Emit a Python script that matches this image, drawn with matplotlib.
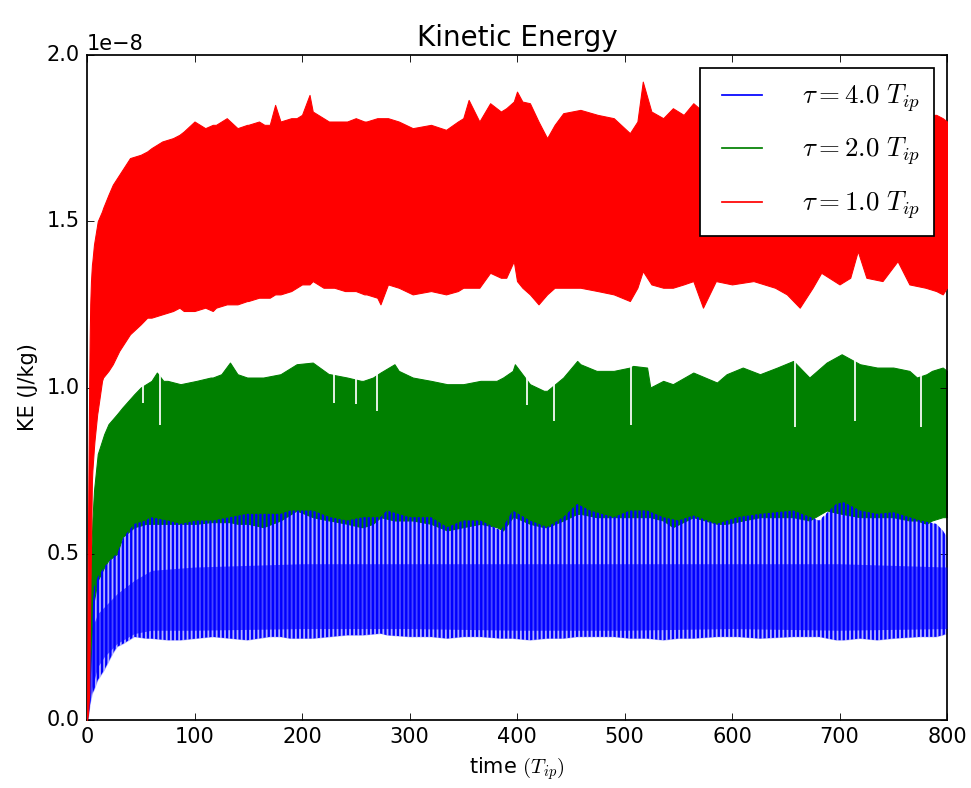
import numpy as np
import matplotlib
matplotlib.use("Agg")
import matplotlib.pyplot as plt

plt.style.use("classic")
plt.rcParams["mathtext.fontset"] = "cm"
plt.rcParams["hatch.linewidth"] = 1.35

SCALE = 1e-8

# ---- tau = 1.0 T_ip (red): envelope of the oscillating KE trace ----
red_t = [0, 1, 2, 2.5, 3, 3.7, 4.6, 5, 6.5, 7, 9.5, 10, 14, 15, 20, 24, 30, 40, 50, 56,
         60, 70, 80, 86, 90, 100, 110, 117, 120, 130, 140, 149, 150, 160, 165, 170, 175,
         180, 190, 195, 200, 207, 210, 215, 220, 225, 230, 240, 242, 250, 258, 260, 270,
         273, 280, 290, 303, 320, 334, 345, 350, 355, 365, 375, 385, 390, 397, 400, 405,
         412, 420, 428, 435, 443, 459, 475, 490, 505, 512, 517, 525, 536, 545, 555, 564,
         573, 585, 600, 620, 640, 651, 663, 675, 683, 700, 710, 717, 725, 740, 754, 765,
         780, 790, 796, 800]
red_hi = [0.0, 0.6, 1.0, 1.15, 1.25, 1.32, 1.37, 1.38, 1.43, 1.44, 1.49, 1.50, 1.53, 1.54,
          1.58, 1.61, 1.64, 1.69, 1.70, 1.71, 1.72, 1.74, 1.75, 1.76, 1.77, 1.80, 1.78, 1.79,
          1.79, 1.81, 1.78, 1.79, 1.79, 1.80, 1.79, 1.79, 1.85, 1.80, 1.81, 1.81, 1.82, 1.88,
          1.83, 1.82, 1.81, 1.80, 1.80, 1.80, 1.80, 1.81, 1.80, 1.80, 1.81, 1.81, 1.81, 1.80,
          1.78, 1.79, 1.775, 1.80, 1.81, 1.865, 1.80, 1.855, 1.83, 1.84, 1.86, 1.89, 1.86,
          1.855, 1.80, 1.75, 1.79, 1.825, 1.835, 1.82, 1.81, 1.765, 1.80, 1.92, 1.83, 1.81,
          1.84, 1.82, 1.855, 1.83, 1.82, 1.82, 1.82, 1.82, 1.82, 1.82, 1.82, 1.82, 1.82,
          1.82, 1.82, 1.82, 1.82, 1.82, 1.82, 1.82, 1.82, 1.81, 1.80]
red_lo = [0.0, 0.02, 0.08, 0.22, 0.35, 0.52, 0.72, 0.75, 0.82, 0.84, 0.92, 0.93, 1.02,
          1.03, 1.05, 1.07, 1.11, 1.16, 1.19, 1.21, 1.21, 1.22, 1.23, 1.24, 1.23, 1.23, 1.24,
          1.23, 1.24, 1.25, 1.25, 1.26, 1.26, 1.27, 1.27, 1.27, 1.28, 1.28, 1.29, 1.30, 1.31,
          1.31, 1.32, 1.31, 1.30, 1.30, 1.30, 1.29, 1.29, 1.29, 1.28, 1.28, 1.27, 1.25, 1.31,
          1.30, 1.28, 1.29, 1.28, 1.29, 1.30, 1.30, 1.30, 1.345, 1.33, 1.33, 1.38, 1.32,
          1.30, 1.28, 1.25, 1.28, 1.30, 1.30, 1.30, 1.29, 1.28, 1.26, 1.30, 1.35, 1.31, 1.30,
          1.30, 1.31, 1.32, 1.24, 1.32, 1.31, 1.32, 1.30, 1.28, 1.24, 1.30, 1.345, 1.31,
          1.33, 1.41, 1.33, 1.32, 1.38, 1.31, 1.30, 1.29, 1.28, 1.30]

# ---- tau = 2.0 T_ip (green) ----
green_t = [0, 2, 3, 5, 6.5, 10, 16, 20, 28, 33, 44, 50, 55, 60, 65, 71, 75, 87, 102, 115,
           117, 125, 133, 140, 149, 150, 164, 180, 195, 210, 225, 226, 242, 255, 257, 266,
           273, 286, 290, 303, 320, 335, 350, 366, 381, 387, 396, 398, 412, 425, 428, 443,
           456, 459, 474, 490, 505, 508, 521, 524, 536, 545, 564, 586, 595, 610, 626, 642,
           657, 672, 688, 702, 719, 735, 750, 765, 772, 781, 786, 796, 800]
green_hi = [0.0, 0.25, 0.40, 0.60, 0.69, 0.80, 0.86, 0.89, 0.92, 0.94, 0.98, 1.00, 1.01,
            1.02, 1.045, 1.02, 1.02, 1.01, 1.02, 1.03, 1.03, 1.04, 1.075, 1.04, 1.03, 1.03,
            1.03, 1.04, 1.07, 1.075, 1.04, 1.04, 1.03, 1.02, 1.02, 1.03, 1.045, 1.07, 1.05,
            1.03, 1.02, 1.01, 1.01, 1.02, 1.02, 1.03, 1.05, 1.07, 1.01, 0.99, 0.99, 1.03,
            1.08, 1.07, 1.05, 1.05, 1.06, 1.065, 1.06, 1.00, 1.02, 1.01, 1.045, 1.015, 1.04,
            1.06, 1.04, 1.06, 1.08, 1.03, 1.075, 1.10, 1.07, 1.06, 1.06, 1.05, 1.03, 1.04,
            1.05, 1.06, 1.05]
green_lo = [0.0, 0.10, 0.15, 0.30, 0.36, 0.42, 0.46, 0.48, 0.50, 0.55, 0.58, 0.585, 0.59,
            0.59, 0.59, 0.59, 0.59, 0.59, 0.59, 0.595, 0.595, 0.595, 0.595, 0.59, 0.59, 0.59,
            0.58, 0.60, 0.63, 0.61, 0.60, 0.60, 0.59, 0.58, 0.58, 0.59, 0.61, 0.60, 0.60,
            0.60, 0.59, 0.57, 0.58, 0.59, 0.58, 0.57, 0.61, 0.61, 0.59, 0.58, 0.58, 0.60,
            0.62, 0.62, 0.61, 0.61, 0.61, 0.61, 0.61, 0.61, 0.60, 0.58, 0.61, 0.59, 0.59,
            0.60, 0.61, 0.61, 0.61, 0.60, 0.63, 0.62, 0.61, 0.61, 0.61, 0.60, 0.60, 0.59,
            0.60, 0.61, 0.61]
# isolated low peaks that leave thin gaps below the green top edge
green_gap_t = [52, 68, 230, 250, 270, 409, 434, 506, 659, 714, 776]
green_gap_lo = [0.953, 0.887, 0.953, 0.95, 0.93, 0.947, 0.90, 0.887, 0.88, 0.90, 0.88]

# ---- tau = 4.0 T_ip (blue): individual cycles are resolved ----
blue_t = [0, 1, 3, 5, 6.5, 10, 16, 24, 28, 34, 44, 55, 59, 75, 87, 102, 117, 133, 149, 170,
          180, 189, 210, 226, 242, 257, 273, 279, 300, 320, 335, 350, 366, 385, 396, 412,
          428, 443, 456, 468, 490, 505, 521, 536, 550, 564, 586, 605, 626, 657, 681, 697,
          704, 719, 735, 750, 775, 790, 796, 800]
blue_hi = [0.0, 0.10, 0.20, 0.32, 0.40, 0.43, 0.46, 0.49, 0.50, 0.55, 0.59, 0.60, 0.61,
           0.60, 0.59, 0.60, 0.60, 0.61, 0.62, 0.62, 0.62, 0.63, 0.63, 0.61, 0.60, 0.61,
           0.61, 0.63, 0.61, 0.61, 0.58, 0.60, 0.60, 0.57, 0.63, 0.60, 0.58, 0.61, 0.65,
           0.63, 0.61, 0.63, 0.63, 0.61, 0.60, 0.615, 0.59, 0.61, 0.62, 0.63, 0.60, 0.65,
           0.655, 0.63, 0.62, 0.625, 0.60, 0.59, 0.57, 0.55]
blue_lo = [0.0, 0.0, 0.05, 0.08, 0.09, 0.12, 0.15, 0.20, 0.22, 0.23, 0.25, 0.245, 0.245,
           0.24, 0.24, 0.245, 0.25, 0.245, 0.24, 0.25, 0.25, 0.245, 0.245, 0.25, 0.255, 0.255,
           0.26, 0.255, 0.25, 0.25, 0.245, 0.25, 0.25, 0.245, 0.245, 0.24, 0.245, 0.245,
           0.25, 0.25, 0.25, 0.245, 0.245, 0.24, 0.245, 0.245, 0.25, 0.25, 0.245, 0.25, 0.25,
           0.24, 0.24, 0.245, 0.24, 0.245, 0.25, 0.25, 0.255, 0.26]
# where successive cycles overlap most densely
band_t = [0, 5, 10, 16, 28, 44, 60, 100, 200, 300, 400, 500, 600, 700, 800]
band_lo = [0.0, 0.10, 0.16, 0.19, 0.23, 0.26, 0.27, 0.27, 0.275, 0.275, 0.27, 0.27, 0.275,
           0.27, 0.275]
band_hi = [0.0, 0.28, 0.32, 0.34, 0.38, 0.42, 0.45, 0.46, 0.47, 0.47, 0.47, 0.47, 0.47,
           0.47, 0.46]

labels = [r"$\tau=4.0\ T_{ip}$", r"$\tau=2.0\ T_{ip}$", r"$\tau=1.0\ T_{ip}$"]
colors = ["blue", "green", "red"]


def s(v):
    return np.asarray(v, dtype=float) * SCALE


fig = plt.figure(figsize=(971 / 125, 788 / 125), dpi=125)
ax = fig.add_axes([87 / 971, 68 / 788, 860 / 971, 665 / 788])

# blue background tint between strokes (kept underneath the green band)
ax.fill_between(blue_t, s(blue_lo), s(blue_hi), facecolor=(0, 0, 1, 0.3),
                linewidth=0, zorder=1.5)

# green
ax.fill_between(green_t, s(green_lo), s(green_hi), facecolor="green",
                edgecolor="green", linewidth=0.6, zorder=2)
ax.vlines(green_gap_t, s(green_gap_lo), s([1.12] * len(green_gap_t)),
          colors="white", linewidth=1.0, zorder=2.1)

# blue: one vertical stroke per forcing cycle (hatch density 6 lines/inch per '|')
ax.fill_between(blue_t, s(blue_lo), s(blue_hi), facecolor="none",
                edgecolor="blue", hatch="|||||", linewidth=0, zorder=3)
ax.fill_between(band_t, s(band_lo), s(band_hi), facecolor=(0, 0, 1, 0.6),
                linewidth=0, zorder=3.1)

# red
ax.fill_between(red_t, s(red_lo), s(red_hi), facecolor="red", edgecolor="red",
                linewidth=0.6, zorder=4)

handles = [plt.Line2D([], [], color=c, linewidth=1.0) for c in colors]
ax.legend(handles, labels, loc="upper right", fontsize=15.5, handlelength=2.08,
          handletextpad=1.19, labelspacing=0.8, borderpad=0.52, borderaxespad=0.5,
          fancybox=False, framealpha=1.0)

ax.set_xlim(0, 800)
ax.set_ylim(0, 2.0e-8)
ax.set_xticks(np.arange(0, 801, 100))
ax.set_yticks(np.arange(0, 2.01e-8, 0.5e-8))
ax.set_title("Kinetic Energy", fontsize=16)
ax.set_xlabel(r"time $(T_{ip})$")
ax.set_ylabel("KE (J/kg)")

fig.savefig("out.png", dpi=125)
